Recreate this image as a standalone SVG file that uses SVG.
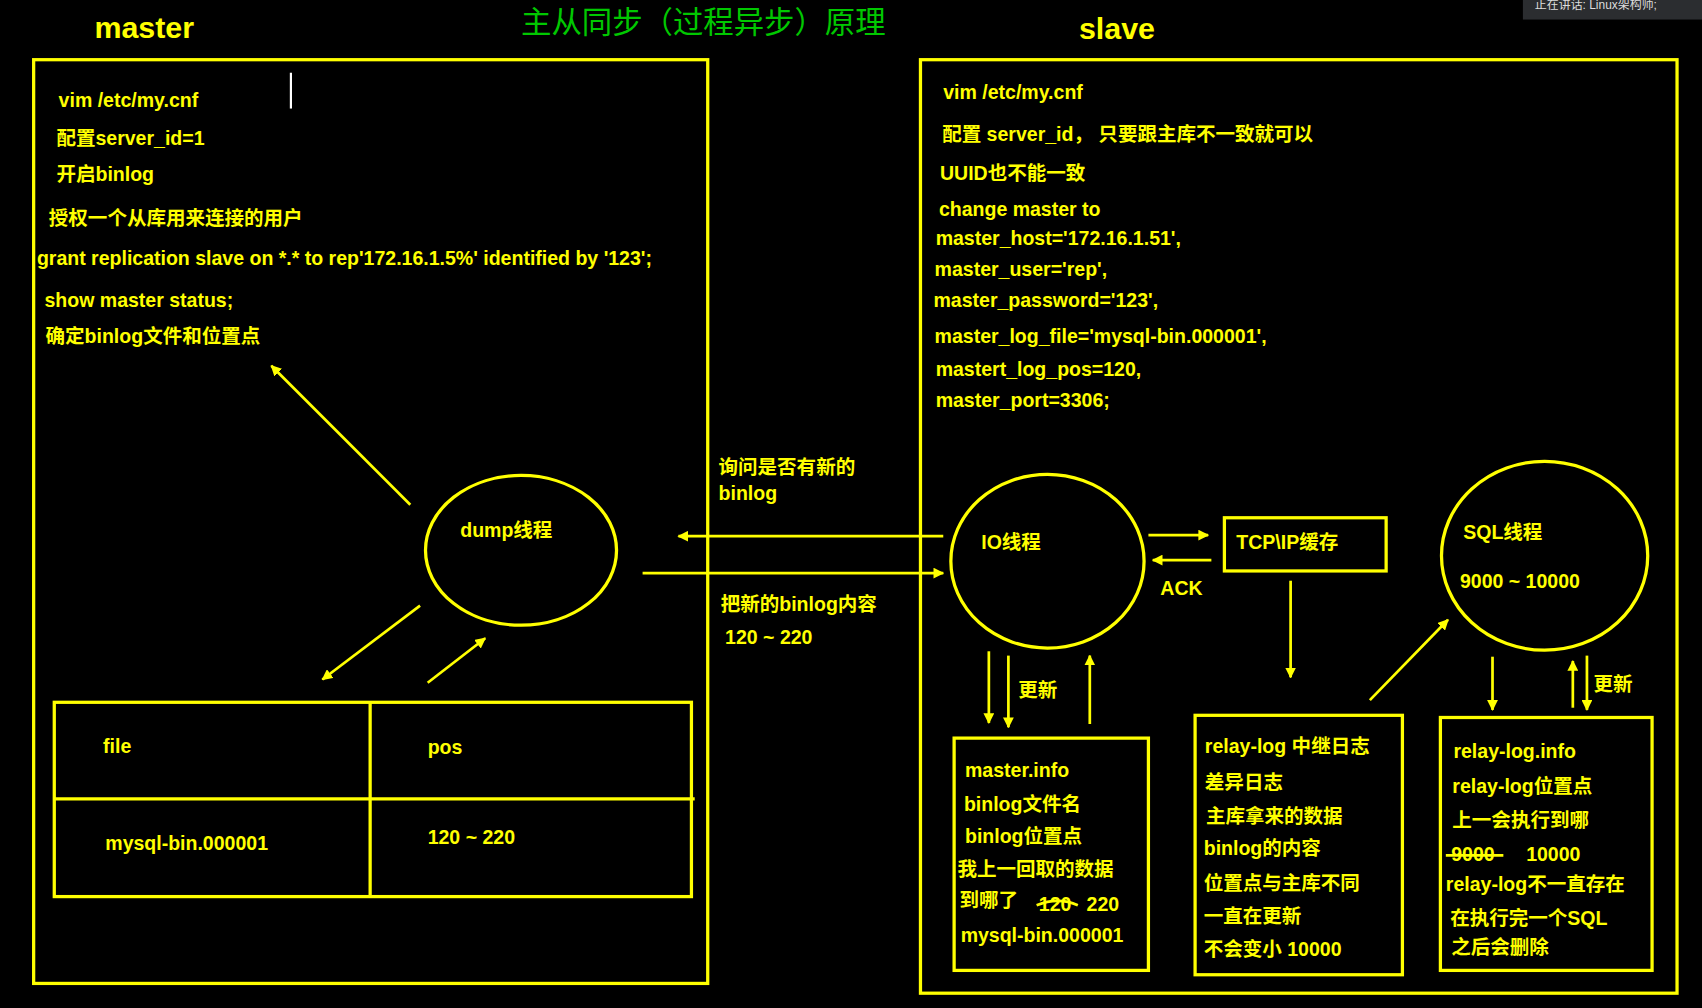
<svg xmlns="http://www.w3.org/2000/svg" width="1702" height="1008" viewBox="0 0 1702 1008">
<defs>
<style>
text{font-family:"Liberation Sans","Noto Sans CJK SC",sans-serif;font-weight:bold;font-size:18px;fill:#ffff00}
.big{font-size:28px}
.title{font-size:28px;fill:#00c800;font-weight:normal;font-family:"Noto Sans CJK SC",sans-serif}
.box{fill:none;stroke:#ffff00;stroke-width:3}
.ln{stroke:#ffff00;stroke-width:2.5;fill:none}
.ar{stroke:#ffff00;stroke-width:2.5;fill:none;marker-end:url(#ah)}
</style>
<marker id="ah" viewBox="0 0 10 10" refX="9" refY="5" markerWidth="4" markerHeight="4" orient="auto"><path d="M0,0L10,5L0,10z" fill="#ffff00"/></marker>
</defs>
<rect width="1702" height="1008" fill="#000"/>
<g transform="scale(1.08546)">
<g id="header">
<text x="87" y="35" class="big">master</text>
<text x="480" y="30" class="title">主从同步（过程异步）原理</text>
<text x="994" y="36" class="big">slave</text>
<rect x="1403" y="0" width="165" height="18" fill="#2b2d30"/>
<text x="1414" y="8" style="font-size:11px;fill:#ddd;font-weight:normal">正在讲话: Linux架构师;</text>
</g>
<g id="master">
<rect class="box" x="31" y="55" width="621" height="851"/>
<line x1="268" y1="67" x2="268" y2="100" stroke="#fff" stroke-width="2"/>
<text x="54" y="99">vim  /etc/my.cnf</text>
<text x="52" y="134">配置server_id=1</text>
<text x="52" y="167">开启binlog</text>
<text x="45" y="207">授权一个从库用来连接的用户</text>
<text x="34" y="244">grant replication slave on *.* to rep'172.16.1.5%' identified by '123';</text>
<text x="41" y="283">show master status;</text>
<text x="42" y="316">确定binlog文件和位置点</text>
</g>
<g id="dump">
<ellipse class="box" cx="480" cy="507" rx="88" ry="69"/>
<text x="424" y="495">dump线程</text>
</g>
<g id="table">
<rect class="box" x="50" y="647" width="587" height="179"/>
<line class="box" x1="341" y1="647" x2="341" y2="826"/>
<line class="box" x1="50" y1="736" x2="640" y2="736"/>
<text x="95" y="694">file</text>
<text x="394" y="695">pos</text>
<text x="97" y="783">mysql-bin.000001</text>
<text x="394" y="778">120    ~     220</text>
</g>
<g id="slave">
<rect class="box" x="848" y="55" width="697" height="860"/>
<text x="869" y="91">vim /etc/my.cnf</text>
<text x="868" y="130">配置 server_id， 只要跟主库不一致就可以</text>
<text x="866" y="166">UUID也不能一致</text>
<text x="865" y="199">change master to</text>
<text x="862" y="226">master_host='172.16.1.51',</text>
<text x="861" y="254">master_user='rep',</text>
<text x="860" y="283">master_password='123',</text>
<text x="861" y="316">master_log_file='mysql-bin.000001',</text>
<text x="862" y="346">mastert_log_pos=120,</text>
<text x="862" y="375">master_port=3306;</text>
</g>
<g id="io">
<ellipse class="box" cx="965" cy="517" rx="89" ry="80"/>
<text x="904" y="506">IO线程</text>
</g>
<g id="tcp">
<rect class="box" x="1128" y="477" width="149" height="49"/>
<text x="1139" y="506">TCP\IP缓存</text>
</g>
<g id="sql">
<ellipse class="box" cx="1423" cy="512" rx="95" ry="87"/>
<text x="1348" y="497">SQL线程</text>
<text x="1345" y="542">9000  ~  10000</text>
</g>
<g id="masterinfo">
<rect class="box" x="879" y="680" width="179" height="214"/>
<text x="889" y="716">master.info</text>
<text x="888" y="747">binlog文件名</text>
<text x="889" y="777">binlog位置点</text>
<text x="882" y="807">我上一回取的数据</text>
<text x="884" y="836">到哪了</text>
<text x="957" y="839">120</text>
<path class="ln" d="M955,834 Q975,826 993,834"/>
<text x="1001" y="839">220</text>
<text x="885" y="868">mysql-bin.000001</text>
</g>
<g id="relaylog">
<rect class="box" x="1101" y="659" width="191" height="239"/>
<text x="1110" y="694">relay-log 中继日志</text>
<text x="1110" y="727">差异日志</text>
<text x="1111" y="758">主库拿来的数据</text>
<text x="1109" y="788">binlog的内容</text>
<text x="1109" y="820">位置点与主库不同</text>
<text x="1109" y="850">一直在更新</text>
<text x="1109" y="881">不会变小  10000</text>
</g>
<g id="relayloginfo">
<rect class="box" x="1327" y="661" width="195" height="233"/>
<text x="1339" y="698">relay-log.info</text>
<text x="1338" y="731">relay-log位置点</text>
<text x="1338" y="762">上一会执行到哪</text>
<text x="1337" y="793">9000</text>
<line class="ln" x1="1332" y1="788" x2="1385" y2="788"/>
<text x="1406" y="793">10000</text>
<text x="1332" y="821">relay-log不一直存在</text>
<text x="1336" y="852">在执行完一个SQL</text>
<text x="1337" y="879">之后会删除</text>
</g>
<g id="connectors">
<line class="ar" x1="378" y1="465" x2="250" y2="337"/>
<line class="ar" x1="387" y1="558" x2="297" y2="626"/>
<line class="ar" x1="394" y1="629" x2="447" y2="588"/>
<line class="ar" x1="869" y1="494" x2="625" y2="494"/>
<line class="ar" x1="592" y1="528" x2="869" y2="528"/>
<line class="ar" x1="1058" y1="493" x2="1113" y2="493"/>
<line class="ar" x1="1116" y1="516" x2="1062" y2="516"/>
<line class="ar" x1="1189" y1="535" x2="1189" y2="624"/>
<line class="ar" x1="1262" y1="645" x2="1334" y2="571"/>
<line class="ar" x1="911" y1="600" x2="911" y2="666"/>
<line class="ar" x1="929" y1="604" x2="929" y2="670"/>
<line class="ar" x1="1004" y1="667" x2="1004" y2="604"/>
<line class="ar" x1="1375" y1="605" x2="1375" y2="654"/>
<line class="ar" x1="1449" y1="652" x2="1449" y2="609"/>
<line class="ar" x1="1462" y1="604" x2="1462" y2="654"/>
<text x="662" y="437">询问是否有新的</text>
<text x="662" y="461">binlog</text>
<text x="664" y="563">把新的binlog内容</text>
<text x="668" y="593">120 ~ 220</text>
<text x="1069" y="548">ACK</text>
<text x="938" y="642">更新</text>
<text x="1468" y="637">更新</text>
</g>
</g>
</svg>
